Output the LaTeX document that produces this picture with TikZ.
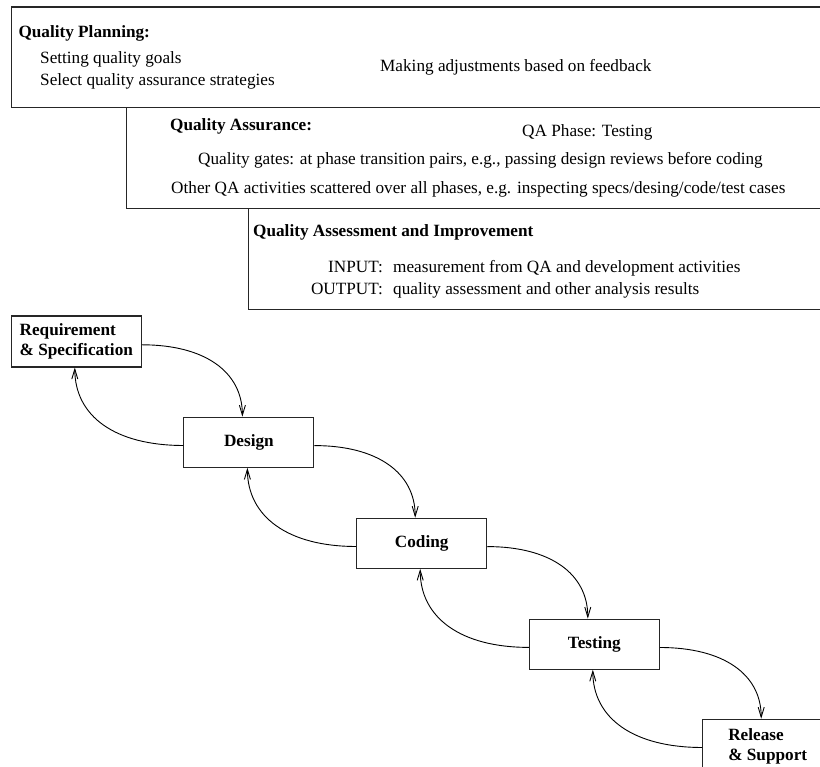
\documentclass[tikz,border=0pt]{standalone}
\usepackage{fontspec}
\setmainfont{Liberation Serif}
\usetikzlibrary{arrows.meta}
\begin{document}
\begin{tikzpicture}[x=1pt,y=1pt,
  txt/.style={inner sep=0pt, anchor=base west, font=\fontsize{17.2}{20.5}\selectfont},
  head/.style={txt, font=\fontsize{17.2}{20.5}\selectfont\bfseries},
  tag/.style={txt, anchor=base east},
  frame/.style={line width=1.2pt, draw=black!85},
  phase/.style={draw=black!85, line width=1.1pt, minimum width=130pt, minimum height=50pt,
    inner sep=0pt, align=left, font=\fontsize{17.2}{20.5}\selectfont\bfseries},
  link/.style={line width=0.9pt, -{Straight Barb[length=10pt,width=6pt]}},
  fwd/.style={link},
  back/.style={link}]
\useasboundingbox (0,0) rectangle (820,767);
\clip (0,0) rectangle (820,767);

% stacked activity panels (open towards the right)
\draw[frame] (830,760) -- (11.7,760) -- (11.7,659.7) -- (830,659.7);
\draw[frame] (126.7,659.7) -- (126.7,558.7) -- (830,558.7);
\draw[frame] (248.3,558.7) -- (248.3,457.7) -- (830,457.7);

% Quality planning panel
\node[head] (qpTitle) at (18.3,729.5) {Quality Planning:};
\node[txt] (qpGoals) at (40,703) {Setting quality goals};
\node[txt] (qpSelect) at (40,681.5) {Select quality assurance strategies};
\node[txt] (qpAdjust) at (380,695) {Making adjustments based on feedback};

% Quality assurance panel
\node[head] (qaTitle) at (170,636) {Quality Assurance:};
\node[txt] (qaPhase) at (522,630.5) {QA Phase: Testing};
\node[txt] (qaGates) at (198,602) {Quality gates: at phase transition pairs, e.g., passing design reviews before coding};
\node[txt] (qaOther) at (171,573.5) {Other QA activities scattered over all phases, e.g. inspecting specs/desing/code/test cases};

% Quality assessment panel
\node[head] (qmTitle) at (253,530.2) {Quality Assessment and Improvement};
\node[tag] (qmInTag) at (383,494) {INPUT:};
\node[txt] (qmIn) at (393,494) {measurement from QA and development activities};
\node[tag] (qmOutTag) at (383,472) {OUTPUT:};
\node[txt] (qmOut) at (393,472) {quality assessment and other analysis results};

% development phases
\node[phase, minimum height=51pt] (req) at (76.3,425.5) {Requirement\\\& Specification};
\node[phase] (des) at (248.9,324.7) {Design};
\node[phase] (cod) at (421.7,223.7) {Coding};
\node[phase] (tst) at (594.3,122.8) {Testing};
\node[phase, minimum height=54pt] (rel) at (767.7,20.7) {Release\\\& Support};

% forward transitions
\draw[fwd] ([yshift=-3.3pt]req.east) .. controls +(63,0) and +(0,45) .. ([xshift=-6.5pt]des.north);
\draw[fwd] ([yshift=-3.3pt]des.east) .. controls +(63,0) and +(0,45) .. ([xshift=-6.5pt]cod.north);
\draw[fwd] ([yshift=-3.3pt]cod.east) .. controls +(63,0) and +(0,45) .. ([xshift=-6.5pt]tst.north);
\draw[fwd] ([yshift=-3.3pt]tst.east) .. controls +(63,0) and +(0,45) .. ([xshift=-6.5pt]rel.north);

% feedback transitions
\draw[back] ([yshift=-3.2pt]des.west) .. controls +(-68,0) and +(0,-49) .. ([xshift=-1.5pt]req.south);
\draw[back] ([yshift=-3.2pt]cod.west) .. controls +(-68,0) and +(0,-49) .. ([xshift=-1.5pt]des.south);
\draw[back] ([yshift=-3.2pt]tst.west) .. controls +(-68,0) and +(0,-49) .. ([xshift=-1.5pt]cod.south);
\draw[back] ([yshift=-1.2pt]rel.west) .. controls +(-68,0) and +(0,-49) .. ([xshift=-1.5pt]tst.south);
\end{tikzpicture}
\end{document}
